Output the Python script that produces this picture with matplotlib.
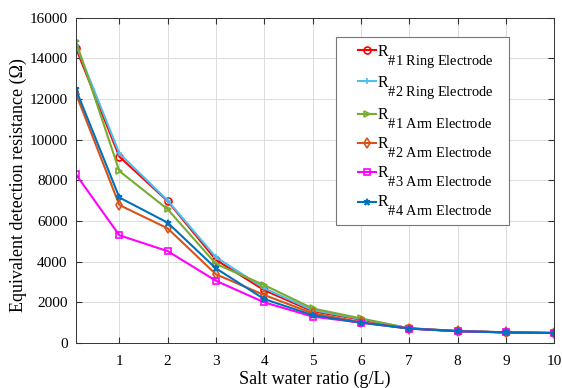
import numpy as np
import matplotlib
matplotlib.use("Agg")
import matplotlib.pyplot as plt
import matplotlib._mathtext as mathtext
from matplotlib.lines import Line2D
from matplotlib.legend_handler import HandlerLine2D

plt.rcParams['font.family'] = ['Liberation Serif', 'DejaVu Serif']
plt.rcParams['mathtext.fontset'] = 'custom'
plt.rcParams['mathtext.rm'] = 'Liberation Serif'
plt.rcParams['mathtext.it'] = 'Liberation Serif:italic'
# subscripts nearly as big as the base letter, and dropped lower
mathtext.SHRINK_FACTOR = 0.9
mathtext.FontConstantsBase.sub1 = 1.15

# salt concentration (g/L)
salt = [0.1, 1, 2, 3, 4, 5, 6, 7, 8, 9, 10]

# equivalent resistance per electrode (ohm)
ring1 = [14520, 9170, 6980, 4090, 2600, 1560, 1150, 720, 590, 525, 495]
ring2 = [14680, 9330, 7010, 4220, 2690, 1620, 1180, 730, 590, 525, 495]
arm1 = [14860, 8460, 6580, 3890, 2850, 1700, 1210, 720, 590, 525, 490]
arm2 = [12270, 6790, 5640, 3380, 2360, 1460, 1030, 710, 580, 520, 490]
arm3 = [8300, 5300, 4520, 3060, 2000, 1300, 1000, 710, 580, 520, 490]
arm4 = [12480, 7160, 5920, 3670, 2160, 1370, 1000, 710, 580, 520, 490]

labels = [r'R$_{\mathrm{\#1\ Ring\ Electrode}}$',
          r'R$_{\mathrm{\#2\ Ring\ Electrode}}$',
          r'R$_{\mathrm{\#1\ Arm\ Electrode}}$',
          r'R$_{\mathrm{\#2\ Arm\ Electrode}}$',
          r'R$_{\mathrm{\#3\ Arm\ Electrode}}$',
          r'R$_{\mathrm{\#4\ Arm\ Electrode}}$']
labels = [lab + '\u2002\u2002' for lab in labels]
series = [ring1, ring2, arm1, arm2, arm3, arm4]
colors = ['#FF0000', '#4DBEEE', '#77AC30', '#D95319', '#FF00FF', '#0072BD']
markers = ['o', '+', '>', 'd', 's', '*']

fig = plt.figure(figsize=(5.62, 3.88), dpi=100)
ax = fig.add_axes([0.135, 0.116, 0.851, 0.838])

for y, lab, c, m in zip(series, labels, colors, markers):
    mfc = 'none' if m in ('o', '>', 'd', 's') else c
    ax.plot(salt, y, color=c, marker=m, markersize=5, linewidth=1.5,
            markerfacecolor=mfc, markeredgewidth=1.2, label=lab)

ax.set_xlim(0.1, 10)
ax.set_ylim(0, 16000)
ax.set_xticks(range(1, 11))
ax.set_yticks(range(0, 16001, 2000))
ax.grid(True, color='#dcdcdc', linewidth=0.7)
ax.tick_params(direction='in', top=True, right=True, labelsize=11, length=4,
               pad=6, color='#333333')
ax.tick_params(axis='x', pad=8.5)
for s in ax.spines.values():
    s.set_color('#333333')
    s.set_linewidth(0.7)

ax.set_xlabel('Salt water ratio (g/L)', fontsize=13)
ax.set_ylabel('Equivalent detection resistance (Ω)', fontsize=13)
ax.xaxis.set_label_coords(0.5, -0.085)
ax.yaxis.set_label_coords(-0.103, 0.487)

leg = ax.legend(loc='upper left', bbox_to_anchor=(0.544, 0.9425), fontsize=11.5,
                handlelength=2.1, handletextpad=0.05, borderaxespad=0,
                handler_map={Line2D: HandlerLine2D(xpad=1.0)},
                fancybox=False, edgecolor='#777777', framealpha=1,
                labelspacing=0.32, borderpad=0.4)
leg.get_frame().set_linewidth(0.8)

fig.savefig('out.png', dpi=100)
